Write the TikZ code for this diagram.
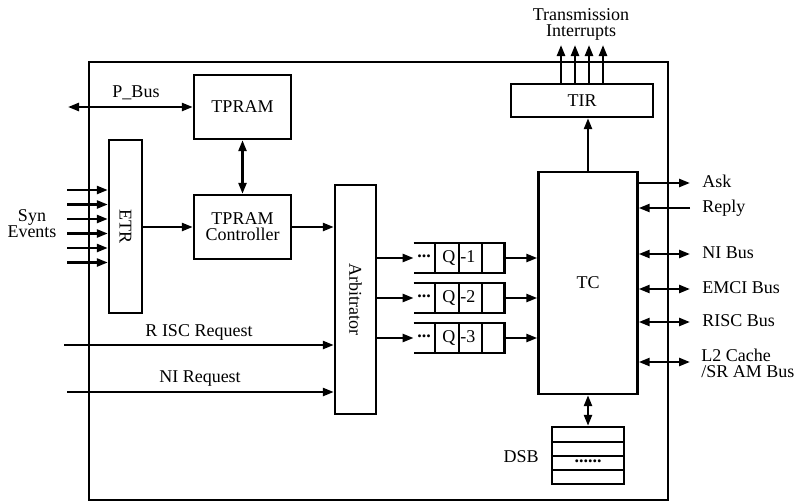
\documentclass[tikz,border=0pt]{standalone}
\usepackage{fontspec}
\setmainfont{Liberation Serif}
\usetikzlibrary{arrows.meta}

\begin{document}
\begin{tikzpicture}[
  x=0.5pt,y=-0.5pt,
  font=\fontsize{9}{8}\selectfont,
  box/.style={rectangle,draw,line width=1.2pt,inner sep=0pt,align=center},
  arrow/.style={-{Triangle[length=5.5pt,width=4pt]},line width=1.2pt},
  biarrow/.style={{Triangle[length=5.5pt,width=4pt]}-{Triangle[length=5.5pt,width=4pt]},line width=1.2pt},
  lbl/.style={inner sep=1pt,align=center},
  rlbl/.style={inner sep=0pt,anchor=mid west,align=left}
]
\useasboundingbox (0,0) rectangle (796,503);

% chip frame
\draw[line width=1.2pt] (89,62) rectangle (668,500);

% blocks
\node[box,minimum width=48.5pt,minimum height=32pt] (tpram) at (242.5,107) {TPRAM};
\node[box,minimum width=48.5pt,minimum height=32pt] (ctrl) at (242.5,227) {TPRAM\\Controller};
\node[box,minimum width=16.5pt,minimum height=86.5pt] (etr) at (125.5,226.5) {\rotatebox{-90}{ETR}};
\node[box,minimum width=20.5pt,minimum height=114.5pt] (arb) at (355.5,299.5) {\rotatebox{-90}{Arbitrator}};
\node[box,minimum width=71pt,minimum height=16.5pt] (tir) at (582,100.5) {TIR};
\node[box,minimum width=49.5pt,minimum height=111pt] (tc) at (588,283) {\raisebox{-4.5pt}{TC}};
\node[box,minimum width=36pt,minimum height=28.5pt] (dsb) at (588,455.5) {};
\foreach \y in {442,456,470}
  \draw[line width=1.2pt] (dsb.west |- 0,\y) -- (dsb.east |- 0,\y);
\node[inner sep=0pt] (dsbdots) at (588,461) {\textbf{......}};
\node[lbl,anchor=mid east] (dsblbl) at (541,458) {DSB};

% queues
\foreach \i/\y in {1/258,2/298,3/338}{
  \node[minimum width=45pt,minimum height=14.5pt,inner sep=0pt] (q\i) at (459,\y) {};
  \draw[line width=1.2pt] (q\i.north west) -- (q\i.north east) -- (q\i.south east) -- (q\i.south west);
  \foreach \x in {435,459,482}
    \draw[line width=1.2pt] (\x,\y-14.5) -- (\x,\y+14.5);
  \node[anchor=west,inner sep=0pt] (q\i txt) at (442,\y) {Q\kern2.5pt-\i};
  \node[inner sep=0pt] (q\i dots) at (424,\y) {\textbf{\raisebox{2pt}{...}}};
  \draw[arrow] (arb.east |- q\i.west) -- (q\i.west);
  \draw[arrow] (q\i.east) -- (tc.west |- q\i.east);
}

% left side
\coordinate (pbus) at (68,107);
\draw[biarrow] (pbus) -- (tpram.west);
\node[lbl] (pbuslbl) at (136,93) {P\_Bus};
\draw[biarrow] (tpram) -- (ctrl);
\foreach \i/\y in {1/190,2/204.5,3/219,4/233.5,5/248,6/262.5}{
  \coordinate (syn\i) at (67,\y);
  \draw[arrow] (syn\i) -- (etr.west |- syn\i);
}
\node[lbl] (synlbl) at (32,224) {Syn\\Events};
\draw[arrow] (etr.east |- ctrl.west) -- (ctrl.west);
\draw[arrow] (ctrl.east) -- (arb.west |- ctrl.east);
\coordinate (riscreq) at (64,345);
\draw[arrow] (riscreq) -- (arb.west |- riscreq);
\node[lbl] (riscreqlbl) at (199,332) {R ISC Request};
\coordinate (nireq) at (67,392);
\draw[arrow] (nireq) -- (arb.west |- nireq);
\node[lbl] (nireqlbl) at (200,379) {NI Request};

% top
\draw[arrow] (tc.north) -- (tir.south -| tc.north);
\foreach \i/\x in {1/561,2/575,3/589,4/603}{
  \coordinate (ti\i) at (\x,45);
  \draw[arrow] (tir.north -| ti\i) -- (ti\i);
}
\node[lbl] (tilbl) at (581,24) {Transmission\\Interrupts};

% right side
\coordinate (ask) at (690,183);
\draw[arrow] (tc.east |- ask) -- (ask);
\node[rlbl] (asklbl) at (702,183) {Ask};
\coordinate (reply) at (690,208);
\draw[arrow] (reply) -- (tc.east |- reply);
\node[rlbl] (replylbl) at (702,208) {Reply};
\foreach \n/\y/\t in {nibus/254/NI Bus,emci/289/EMCI Bus,riscbus/322/RISC Bus}{
  \coordinate (\n) at (690,\y);
  \draw[biarrow] (tc.east |- \n) -- (\n);
  \node[rlbl] (\n lbl) at (702,\y) {\t};
}
\coordinate (l2) at (690,362);
\draw[biarrow] (tc.east |- l2) -- (l2);
\node[rlbl,anchor=west] (l2lbl) at (701,363) {L2 Cache\\/SR AM Bus};

% DSB link
\draw[biarrow] (tc.south) -- (dsb.north);
\end{tikzpicture}
\end{document}
